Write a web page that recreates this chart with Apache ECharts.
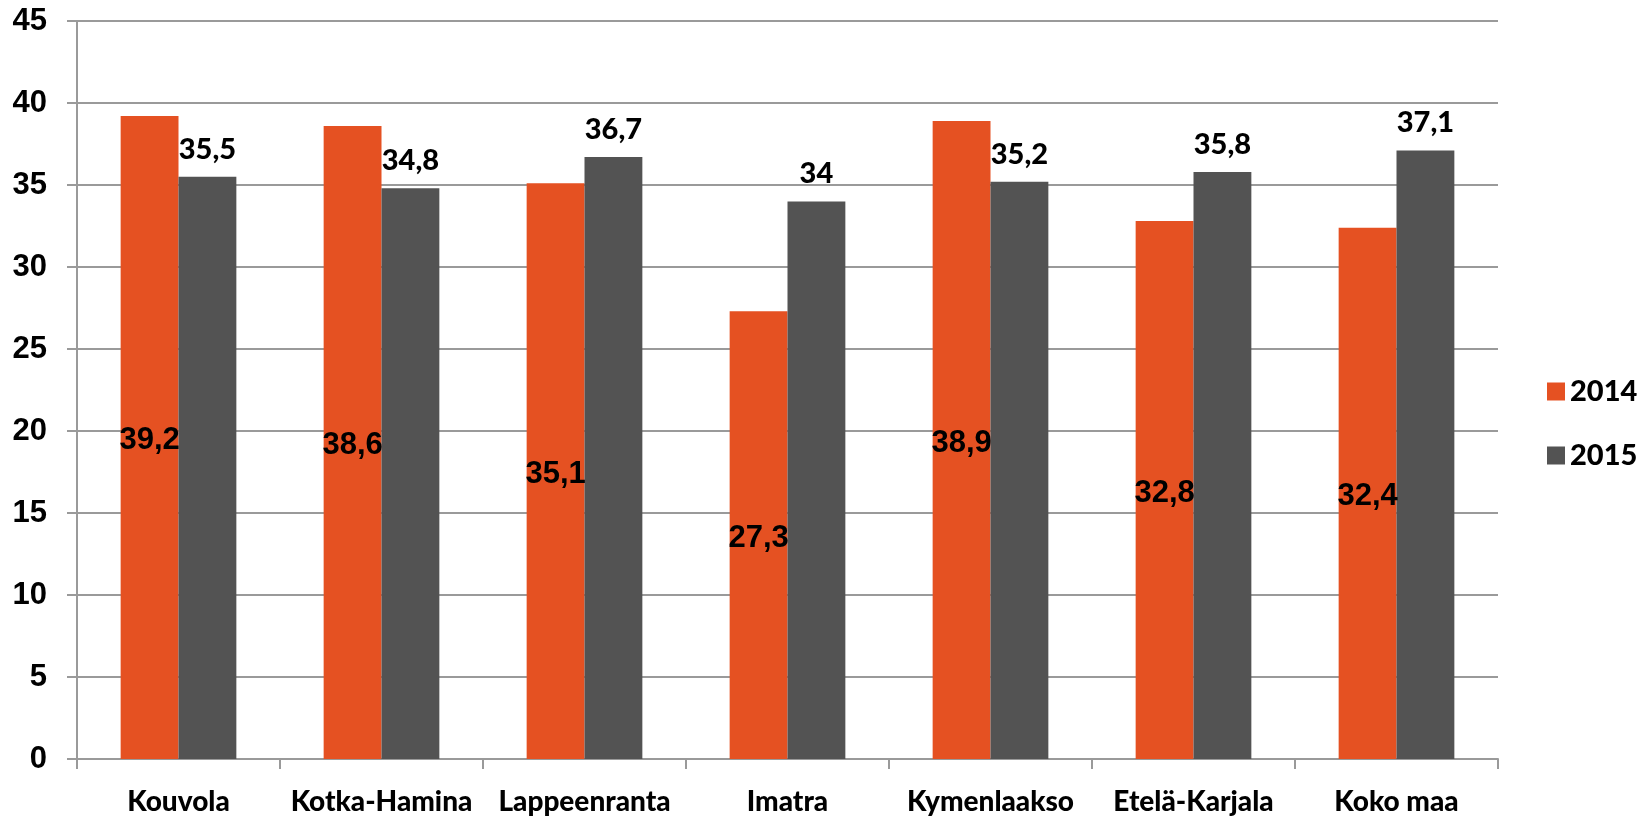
<!DOCTYPE html>
<html>
<head>
<meta charset="utf-8">
<script src="https://cdn.jsdelivr.net/npm/echarts@6/dist/echarts.min.js"></script>
<style>
  html, body { margin: 0; padding: 0; background: #fff; }
  #chart { width: 1647px; height: 819px; }
</style>
</head>
<body>
<div id="chart"></div>
<script>
var categories = ['Kouvola', 'Kotka-Hamina', 'Lappeenranta', 'Imatra', 'Kymenlaakso', 'Etelä-Karjala', 'Koko maa'];
var values2014 = [39.2, 38.6, 35.1, 27.3, 38.9, 32.8, 32.4];
var values2015 = [35.5, 34.8, 36.7, 34, 35.2, 35.8, 37.1];
var yTicks = [0, 5, 10, 15, 20, 25, 30, 35, 40, 45];

var fmt = function (p) { return String(p.value).replace('.', ','); };
var gridColor = '#9a9a9a';
var labelFont = 'Liberation Sans, Arial, sans-serif';
var catFont = 'Lato, Open Sans, sans-serif';
var catWeight = 900;

var chart = echarts.init(document.getElementById('chart'));
chart.setOption({
    animation: false,
    backgroundColor: '#fff',
    grid: { left: 77, right: 149, top: 21, bottom: 60 },
    legend: {
        orient: 'vertical',
        left: 1542,
        top: 372,
        itemWidth: 18,
        itemHeight: 18,
        itemGap: 35,
        icon: 'rect',
        textStyle: { fontFamily: catFont, fontWeight: catWeight, fontSize: 29, color: '#000' },
        data: ['2014', '2015']
    },
    xAxis: {
        type: 'category',
        data: categories,
        axisLine: { lineStyle: { color: gridColor, width: 2 } },
        axisTick: { show: true, length: 10, lineStyle: { color: gridColor, width: 2 } },
        axisLabel: { margin: 29, color: '#000', fontFamily: catFont, fontWeight: catWeight, fontSize: 28, interval: 0 }
    },
    yAxis: {
        type: 'value',
        min: yTicks[0],
        max: yTicks[yTicks.length - 1],
        interval: 5,
        axisLine: { show: true, lineStyle: { color: gridColor, width: 2 } },
        axisTick: { show: true, length: 10, lineStyle: { color: gridColor, width: 2 } },
        splitLine: { lineStyle: { color: gridColor, width: 2 } },
        axisLabel: { margin: 30, color: '#000', fontFamily: labelFont, fontWeight: 'bold', fontSize: 31 }
    },
    series: [
        {
            name: '2014',
            type: 'bar',
            data: values2014,
            barGap: '0%',
            barCategoryGap: '43%',
            itemStyle: { color: '#e55122' },
            label: {
                show: true,
                position: 'inside',
                offset: [0, 3],
                formatter: fmt,
                color: '#000',
                fontFamily: labelFont,
                fontWeight: 'bold',
                fontSize: 31
            }
        },
        {
            name: '2015',
            type: 'bar',
            data: values2015,
            barGap: '0%',
            barCategoryGap: '43%',
            itemStyle: { color: '#535353' },
            label: {
                show: true,
                position: 'top',
                distance: 13,
                formatter: fmt,
                color: '#000',
                fontFamily: catFont,
                fontWeight: catWeight,
                fontSize: 29
            }
        }
    ]
});
</script>
</body>
</html>
